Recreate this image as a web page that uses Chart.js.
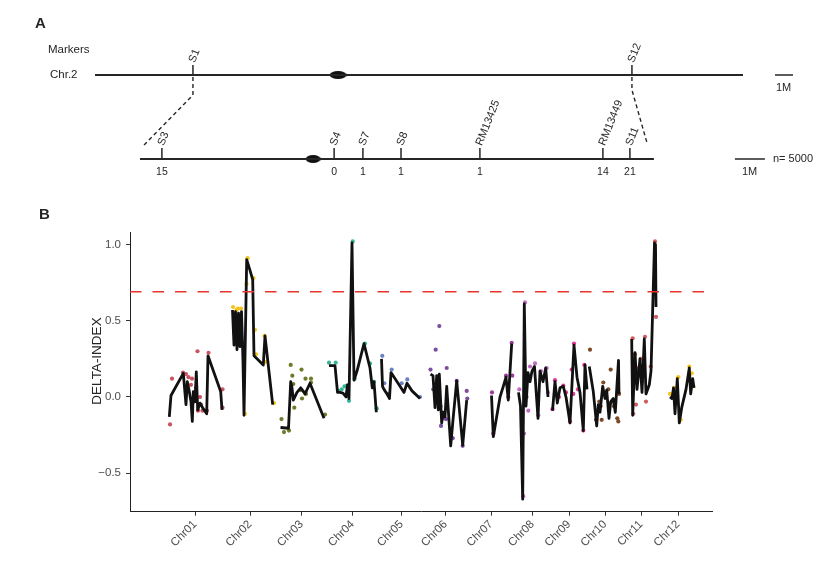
<!DOCTYPE html>
<html>
<head>
<meta charset="utf-8">
<script src="https://cdn.jsdelivr.net/npm/chart.js@4.4.0/dist/chart.umd.min.js"></script>
<style>
  html, body { margin: 0; padding: 0; background: #fff; }
  #wrap { position: relative; width: 831px; height: 562px; }
  #mapA { position: absolute; left: 0; top: 0; }
  #plotB { position: absolute; left: 0; top: 190px; }
</style>
</head>
<body>
<div id="wrap">
  <canvas id="mapA" width="831" height="190"></canvas>
  <canvas id="plotB" width="831" height="372"></canvas>
</div>
<script>
// ---- panel A: fine map of Chr.2 ----
// top map in Mb, bottom (zoomed) map in its own Mb units
const chrLengthMb = 36.0;
const centromereMb = 13.5;
const topMarkers = ['S1', 'S12'];
const topMarkerMb = [5.44, 29.83];
const connectorEndMb = [2.67, 30.67];   // where the dashed lines land, top-map units
const fineMarkers = ['S3', 'S4', 'S7', 'S8', 'RM13425', 'RM13449', 'S11'];
const fineMarkerMb = [0.73, 6.47, 7.43, 8.7, 11.33, 15.43, 16.33];
const recombinants = [15, 0, 1, 1, 1, 14, 21];
const fineLengthMb = 17.13;
const fineCentromereMb = 5.77;
const populationSize = 5000;

// ---- panel B: DELTA-INDEX along the 12 chromosomes ----
const chromosomes = ['Chr01', 'Chr02', 'Chr03', 'Chr04', 'Chr05', 'Chr06',
                     'Chr07', 'Chr08', 'Chr09', 'Chr10', 'Chr11', 'Chr12'];
const chrCentres = [65, 120, 171.5, 222.5, 271.5, 315.5, 361, 402.5, 439, 475, 511, 548];
const yTicks = [-0.5, 0, 0.5, 1.0];
const threshold = 0.69;

// sliding-window line, per chromosome
const smoothPos = [
  [39.3, 41, 53.3, 56, 57.3, 59.3, 61, 62.3, 63.3, 65, 66.3, 67.7, 70, 72.7, 76.7, 78, 90.7, 92],
  [102.5, 104, 105.5, 107, 108.5, 110, 111.5, 113, 114, 116.7, 120, 122.7, 124, 133.3, 135, 142.7],
  [150.5, 158.5, 160.7, 162, 163.3, 167, 170.7, 173, 175, 180, 194],
  [199, 205, 207.5, 210, 213, 216, 217.5, 219, 222, 224, 227, 234, 240, 242.3, 244, 246.3],
  [251.5, 252.5, 254, 257, 259.5, 261, 271, 274, 277, 282, 290],
  [300.5, 303, 305, 306.7, 308.3, 309.3, 311.7, 313, 315, 316.7, 320.7, 323, 326.7, 332.7, 336.7],
  [361.5, 363.3, 370, 373.3, 376, 378.3, 381.7],
  [388.5, 390.5, 392.7, 394.3, 396, 398, 400, 402, 404.5, 406, 408, 410, 413, 415.7, 418],
  [422.5, 425, 427.3, 430, 433.3, 436, 440, 444, 447, 450, 453.3, 455, 457],
  [459.3, 463.3, 466.7, 468.3, 470, 472.7, 475, 476.7, 479, 480.7, 483.3, 485.3, 488.5, 489],
  [501.7, 502.7, 505, 507, 510, 512, 514.3, 516, 519.3, 521, 524.5, 525, 525.5, 526],
  [540, 542, 543.5, 545, 547.3, 549.3, 551.7, 556, 559.3, 560.7, 562.7, 564]
];
const smoothIdx = [
  [-0.13, 0.01, 0.155, -0.05, 0.10, 0.035, -0.03, -0.16, 0.035, -0.03, 0.165, -0.085, -0.04, -0.07, -0.11, 0.27, 0.035, -0.085],
  [0.57, 0.34, 0.56, 0.31, 0.55, 0.33, 0.56, 0.23, -0.12, 0.90, 0.83, 0.77, 0.27, 0.21, 0.40, -0.05],
  [-0.20, -0.205, 0.10, 0.06, -0.02, 0.03, 0.06, 0.04, 0.02, 0.09, -0.14],
  [0.205, 0.205, 0.03, 0.03, 0.025, 0.0, 0.08, -0.01, 1.01, 0.11, 0.17, 0.35, 0.19, 0.06, 0.10, -0.10],
  [0.25, 0.07, 0.05, 0.02, -0.01, 0.16, 0.06, 0.03, 0.09, 0.04, -0.01],
  [0.15, 0.14, -0.07, 0.14, -0.085, 0.15, -0.17, -0.10, -0.13, 0.07, -0.32, -0.15, 0.105, -0.315, -0.02],
  [0.01, -0.26, 0.0, 0.07, 0.13, -0.02, 0.35],
  [0.03, -0.06, -0.67, 0.61, -0.06, 0.16, 0.10, 0.17, 0.20, 0.05, -0.14, 0.17, 0.10, 0.19, 0.00],
  [-0.09, 0.10, -0.04, 0.06, 0.07, 0.00, -0.17, 0.34, 0.13, 0.03, -0.22, 0.21, 0.05],
  [0.20, 0.035, -0.19, -0.05, -0.10, 0.07, -0.01, 0.045, -0.14, -0.03, -0.01, -0.10, 0.24, 0.02],
  [0.38, -0.12, 0.29, 0.05, 0.25, 0.03, 0.38, 0.02, 0.08, 0.17, 1.01, 0.72, 1.0, 0.59],
  [0.00, -0.01, 0.06, -0.11, 0.12, -0.17, -0.07, 0.05, 0.19, 0.02, 0.12, 0.06]
];

// single SNP values, per chromosome
const snpPos = [
  [40, 42, 53, 56, 58.5, 61, 62, 64, 66, 67.5, 68, 70, 71, 72.5, 77, 78.5, 92.5, 92.5],
  [103, 106.5, 108, 111, 115, 117.5, 116.5, 123.5, 125, 126, 134.5, 135, 144],
  [151.5, 154, 159, 160.7, 162.3, 163.3, 164.3, 170.7, 171.5, 172, 175.5, 176, 181, 181, 195],
  [199, 205.7, 208.5, 211.7, 214.5, 217, 217.5, 219, 222.7, 224.7, 235, 240, 244, 246.7],
  [252.3, 254.3, 258, 261.7, 271.7, 277.3, 290],
  [300.5, 303.3, 305.7, 309.3, 310.5, 311, 314, 316, 316.7, 322.7, 326.7, 332.7, 336.7, 337.3],
  [362, 363.3, 376, 378.3, 381.7, 382.3],
  [389.3, 393.3, 394, 395, 396.7, 398.3, 400, 405, 408.3, 411, 416.7, 418],
  [422.5, 425, 429, 433.3, 436, 440, 441.7, 443.3, 444, 448, 453.3, 454.3],
  [460, 466, 469.3, 470.5, 471.7, 473.3, 475.5, 478.3, 480.7, 482, 484, 487.3, 488.3, 489],
  [502.7, 503.3, 505, 506, 507, 510.7, 512, 515, 516, 520.7, 525, 526],
  [540, 544, 545.5, 548.3, 550.7, 559.3, 561.7, 563.3]
];
const snpIdx = [
  [-0.18, 0.12, 0.16, 0.15, 0.13, 0.08, 0.12, -0.03, 0.06, 0.30, -0.09, 0.00, -0.05, -0.09, -0.09, 0.29, 0.05, -0.07],
  [0.59, 0.57, 0.58, 0.58, -0.11, 0.91, 0.74, 0.78, 0.44, 0.28, 0.40, 0.23, -0.04],
  [-0.145, -0.23, -0.22, 0.21, 0.14, 0.085, -0.07, 0.045, 0.18, -0.01, 0.12, 0.02, 0.12, 0.095, -0.115],
  [0.225, 0.225, 0.04, 0.05, 0.07, 0.075, 0.03, -0.025, 1.02, 0.12, 0.35, 0.22, 0.10, -0.075],
  [0.27, 0.09, 0.02, 0.18, 0.09, 0.115, 0.00],
  [0.18, 0.05, 0.31, 0.465, -0.06, -0.19, -0.14, -0.145, 0.19, -0.27, 0.105, -0.32, 0.04, -0.01],
  [0.03, -0.24, 0.14, 0.00, 0.355, 0.14],
  [0.05, -0.65, -0.24, 0.62, 0.00, -0.09, 0.20, 0.22, -0.12, 0.17, 0.19, 0.03],
  [-0.08, 0.11, 0.00, 0.075, 0.03, -0.16, 0.18, 0.02, 0.35, 0.05, -0.22, 0.21],
  [0.31, -0.15, -0.03, -0.06, -0.15, 0.095, 0.01, 0.05, 0.18, -0.03, -0.06, -0.14, -0.16, 0.02],
  [0.385, -0.11, 0.28, -0.05, 0.19, 0.25, 0.10, 0.395, -0.03, 0.20, 1.02, 0.525],
  [0.02, 0.06, -0.02, 0.13, -0.15, 0.20, 0.155, 0.07]
];

const chrColours = ['#c9545f', '#f4c41a', '#6f7b2b', '#35b596', '#6c83c2', '#7b4ea0',
                    '#9a3d9e', '#c06cc0', '#e33a98', '#7c4a26', '#cf5d5d', '#f4c41a'];

const FONT = '"Liberation Sans", Arial, sans-serif';
const INK = '#262626';
const TOP_ROW = 75, FINE_ROW = 159;

const ellipseStyle = (w, h) => {
  const c = document.createElement('canvas');
  c.width = w; c.height = h;
  const g = c.getContext('2d');
  g.fillStyle = '#111';
  g.beginPath();
  g.ellipse(w / 2, h / 2, w / 2, h / 2, 0, 0, Math.PI * 2);
  g.fill();
  return c;
};

const seg = (axis, pts, extra) => Object.assign({
  xAxisID: axis,
  data: pts,
  showLine: true,
  borderColor: INK,
  borderWidth: 2,
  pointRadius: 0,
  tension: 0
}, extra || {});

// ---------- chart A ----------
const mapSets = [];
mapSets.push(seg('xTop', [{x: 0, y: TOP_ROW}, {x: chrLengthMb, y: TOP_ROW}]));
mapSets.push(seg('xBot', [{x: 0, y: FINE_ROW}, {x: fineLengthMb, y: FINE_ROW}]));
topMarkerMb.forEach((m, i) => {
  mapSets.push(seg('xTop', [{x: m, y: TOP_ROW - 10}, {x: m, y: TOP_ROW}], {borderWidth: 1.5}));
  mapSets.push(seg('xTop', [{x: m, y: TOP_ROW + 2}, {x: m, y: TOP_ROW + (i === 0 ? 20 : 15)},
                             {x: connectorEndMb[i], y: i === 0 ? 146 : 143}],
                   {borderWidth: 1.4, borderDash: [4, 3]}));
});
fineMarkerMb.forEach(m => {
  mapSets.push(seg('xBot', [{x: m, y: FINE_ROW - 11}, {x: m, y: FINE_ROW}], {borderWidth: 1.5}));
});
mapSets.push(seg('xTop', [{x: centromereMb, y: TOP_ROW}], {showLine: false, pointRadius: 8, pointStyle: ellipseStyle(17, 8)}));
mapSets.push(seg('xBot', [{x: fineCentromereMb, y: FINE_ROW}], {showLine: false, pointRadius: 8, pointStyle: ellipseStyle(15, 8)}));
// 1 Mb scale bars
mapSets.push(seg('xTop', [{x: 37.78, y: TOP_ROW}, {x: 38.78, y: TOP_ROW}], {borderWidth: 1.5}));
mapSets.push(seg('xBot', [{x: 19.83, y: FINE_ROW}, {x: 20.83, y: FINE_ROW}], {borderWidth: 1.5}));

const mapText = {
  id: 'mapText',
  afterDatasetsDraw(chart) {
    const {ctx, scales: {xTop, xBot}} = chart;
    ctx.save();
    ctx.fillStyle = INK;
    ctx.textBaseline = 'middle';
    ctx.textAlign = 'left';
    ctx.font = 'bold 15px ' + FONT;
    ctx.fillText('A', 35, 24);
    ctx.font = '11.5px ' + FONT;
    ctx.fillText('Markers', 48, 50);
    ctx.fillText('Chr.2', 50, TOP_ROW);
    ctx.font = '11px ' + FONT;
    ctx.fillText('1M', 776, 88);
    ctx.fillText('1M', 742, 172);
    ctx.fillText('n= ' + populationSize, 773, FINE_ROW);

    const slanted = (txt, px, py) => {
      ctx.save();
      ctx.translate(px, py);
      ctx.rotate(-68 * Math.PI / 180);
      ctx.textAlign = 'left';
      ctx.fillText(txt, 0, 0);
      ctx.restore();
    };
    topMarkers.forEach((m, i) => slanted(m, xTop.getPixelForValue(topMarkerMb[i]) - 1, TOP_ROW - 13));
    fineMarkers.forEach((m, i) => slanted(m, xBot.getPixelForValue(fineMarkerMb[i]) - 1, FINE_ROW - 14));
    ctx.textAlign = 'center';
    ctx.font = '10.5px ' + FONT;
    recombinants.forEach((n, i) => ctx.fillText(String(n), xBot.getPixelForValue(fineMarkerMb[i]), 172));
    ctx.restore();
  }
};

new Chart(document.getElementById('mapA'), {
  type: 'scatter',
  data: {datasets: mapSets},
  options: {
    responsive: false,
    animation: false,
    layout: {padding: 0, autoPadding: false},
    plugins: {legend: {display: false}, tooltip: {enabled: false}},
    scales: {
      xTop: {type: 'linear', position: 'bottom', display: false, min: -5.28, max: 40.89},
      xBot: {type: 'linear', position: 'bottom', display: false, min: -4.667, max: 23.033},
      y: {type: 'linear', display: false, min: 0, max: 190, reverse: true}
    }
  },
  plugins: [mapText]
});

// ---------- chart B ----------
const plotSets = [];
chromosomes.forEach((c, i) => {
  plotSets.push({
    label: c + ' window',
    data: smoothPos[i].map((p, k) => ({x: p, y: smoothIdx[i][k]})),
    showLine: true,
    borderColor: '#111',
    borderWidth: 2.8,
    borderJoinStyle: 'round',
    pointRadius: 0,
    tension: 0,
    order: 1
  });
  plotSets.push({
    label: c,
    data: snpPos[i].map((p, k) => ({x: p, y: snpIdx[i][k]})),
    showLine: false,
    pointRadius: 2.1,
    pointBorderWidth: 0,
    pointBackgroundColor: chrColours[i],
    borderColor: chrColours[i],
    order: 2
  });
});
plotSets.push({
  label: 'threshold',
  data: [{x: 0, y: threshold}, {x: 582, y: threshold}],
  showLine: true,
  borderColor: '#e8332c',
  borderWidth: 1.6,
  borderDash: [11.5, 11],
  pointRadius: 0,
  order: 0
});

const plotText = {
  id: 'plotText',
  afterDraw(chart) {
    const {ctx} = chart;
    ctx.save();
    ctx.fillStyle = INK;
    ctx.textBaseline = 'middle';
    ctx.textAlign = 'left';
    ctx.font = 'bold 15px ' + FONT;
    ctx.fillText('B', 39, 25);
    ctx.translate(97, 171);
    ctx.rotate(-Math.PI / 2);
    ctx.textAlign = 'center';
    ctx.font = '13.5px ' + FONT;
    ctx.fillText('DELTA-INDEX', 0, 0);
    ctx.restore();
  }
};

new Chart(document.getElementById('plotB'), {
  type: 'scatter',
  data: {datasets: plotSets},
  options: {
    responsive: false,
    animation: false,
    layout: {padding: {left: 0, right: 119, top: 42.7, bottom: 0}, autoPadding: false},
    plugins: {legend: {display: false}, tooltip: {enabled: false}},
    scales: {
      x: {
        type: 'linear', min: 0, max: 582,
        afterFit: s => { s.height = 50.3; },
        afterBuildTicks: s => { s.ticks = chrCentres.map(v => ({value: v})); },
        ticks: {
          autoSkip: false, minRotation: 45, maxRotation: 45, padding: 2,
          color: '#4d4d4d', font: {size: 11.5, family: FONT},
          callback: (v, i) => chromosomes[i]
        },
        grid: {drawOnChartArea: false, tickLength: 4, color: '#333'},
        border: {color: '#222', width: 1}
      },
      y: {
        type: 'linear', min: -0.752, max: 1.077,
        afterFit: s => { s.width = 130; },
        afterBuildTicks: s => { s.ticks = yTicks.map(v => ({value: v})); },
        ticks: {
          padding: 5, color: '#4d4d4d', font: {size: 11.5, family: FONT},
          callback: v => (v < 0 ? '\u2212' : '') + Math.abs(v).toFixed(1)
        },
        grid: {drawOnChartArea: false, tickLength: 4, color: '#333'},
        border: {color: '#222', width: 1}
      }
    }
  },
  plugins: [plotText]
});
</script>
</body>
</html>
